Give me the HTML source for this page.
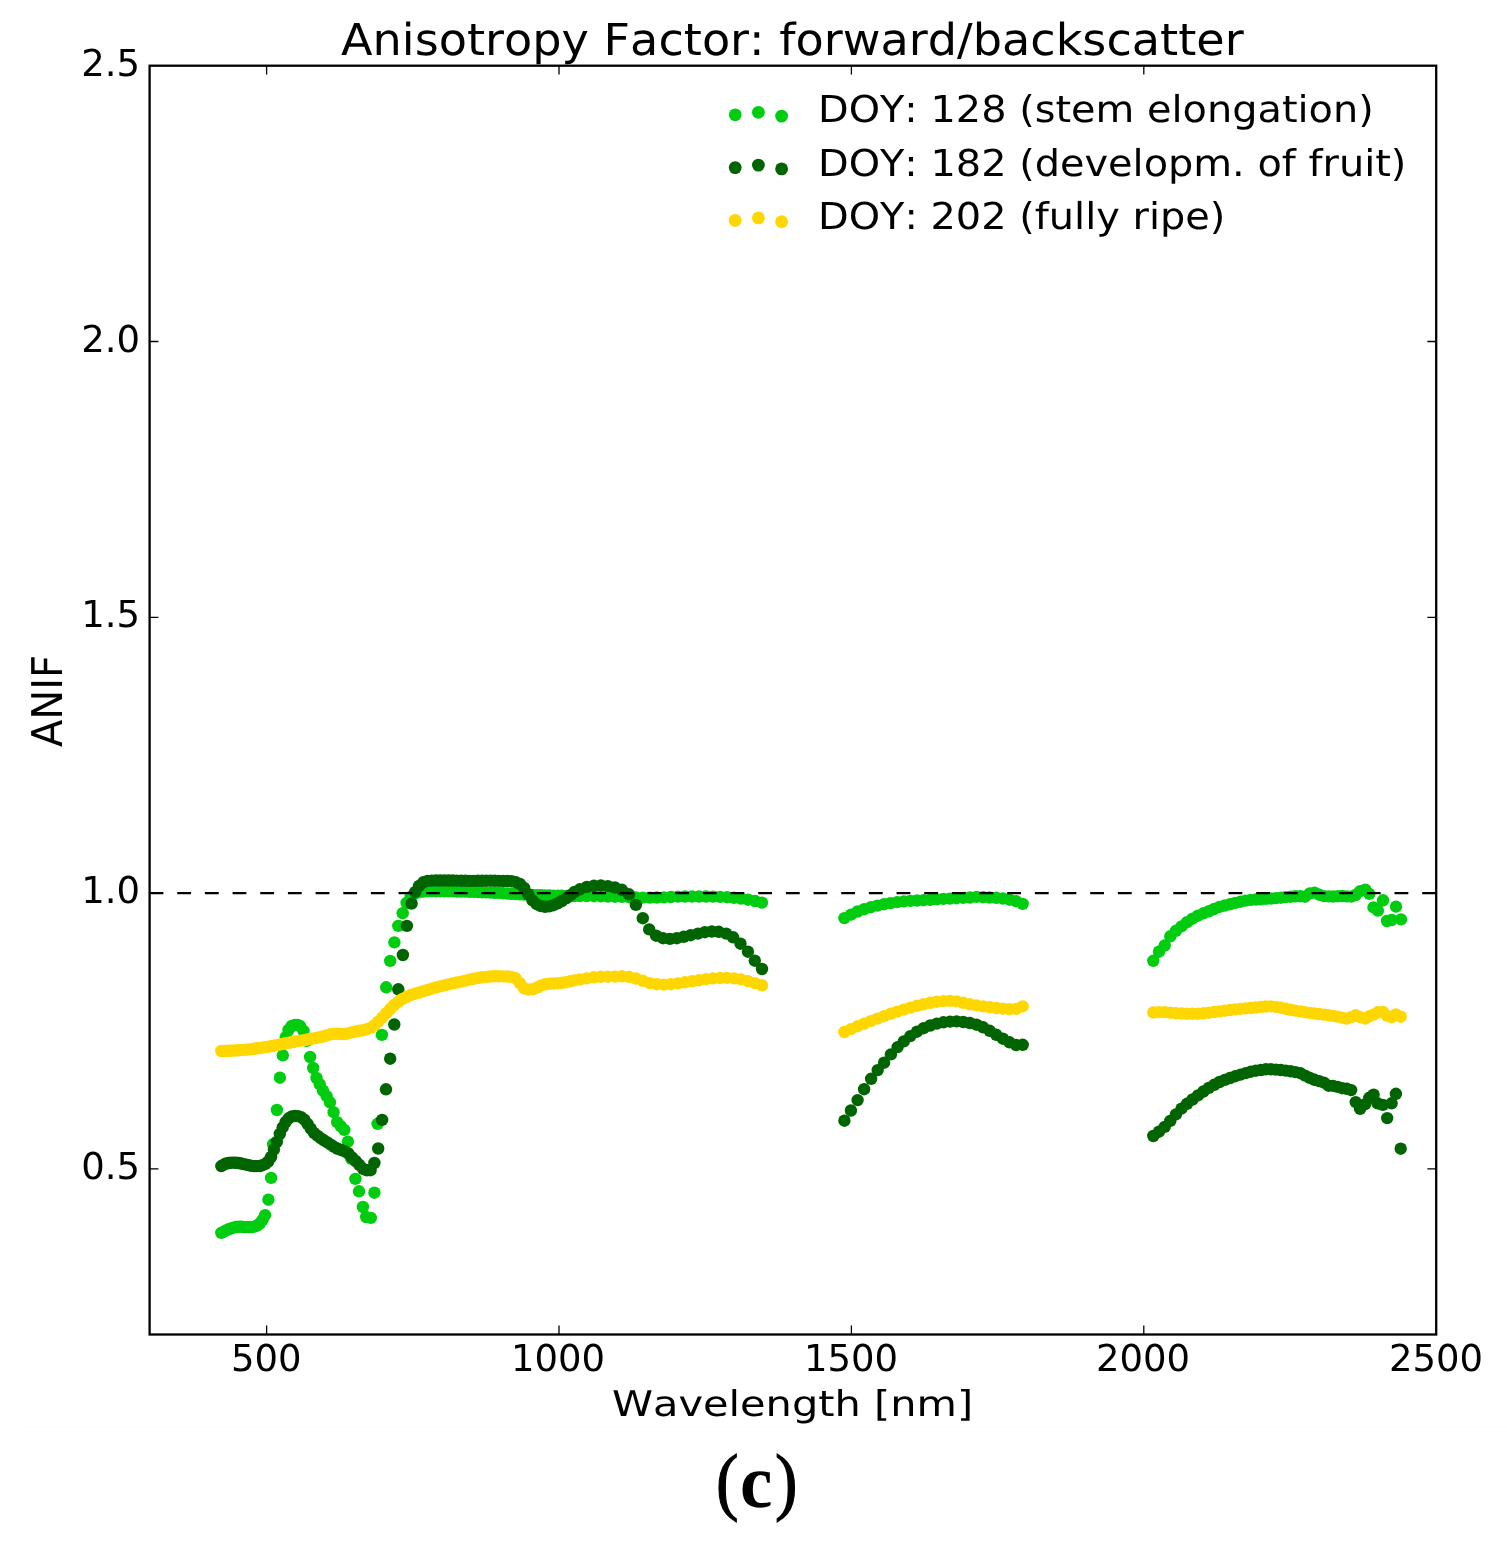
<!DOCTYPE html>
<html><head><meta charset="utf-8"><title>Anisotropy Factor</title>
<style>
html,body{margin:0;padding:0;background:#fff}
body{width:1507px;height:1544px;position:relative;overflow:hidden;font-family:"DejaVu Sans","Liberation Sans",sans-serif;color:#000}
.t{position:absolute;white-space:nowrap;line-height:1;transform-origin:0 0;font-kerning:none;font-variant-ligatures:none;text-rendering:geometricPrecision}
</style></head><body>
<svg width="1507" height="1544" viewBox="0 0 1507 1544" style="position:absolute;left:0;top:0">
<g fill="#00cd10"><circle cx="221.3" cy="1232.9" r="6.2"/><circle cx="223.7" cy="1231.6" r="6.2"/><circle cx="226.1" cy="1230.4" r="6.2"/><circle cx="228.6" cy="1229.3" r="6.2"/><circle cx="231.0" cy="1228.4" r="6.2"/><circle cx="233.5" cy="1227.7" r="6.2"/><circle cx="236.0" cy="1227.0" r="6.2"/><circle cx="238.6" cy="1226.7" r="6.2"/><circle cx="241.2" cy="1226.8" r="6.2"/><circle cx="243.7" cy="1227.0" r="6.2"/><circle cx="246.4" cy="1227.1" r="6.2"/><circle cx="249.0" cy="1227.1" r="6.2"/><circle cx="251.7" cy="1227.1" r="6.2"/><circle cx="254.4" cy="1226.6" r="6.2"/><circle cx="257.1" cy="1225.6" r="6.2"/><circle cx="259.8" cy="1223.5" r="6.2"/><circle cx="262.6" cy="1219.8" r="6.2"/><circle cx="265.1" cy="1215.1" r="6.2"/><circle cx="268.4" cy="1199.7" r="6.2"/><circle cx="271.1" cy="1177.9" r="6.2"/><circle cx="273.1" cy="1144.2" r="6.2"/><circle cx="276.9" cy="1110.0" r="6.2"/><circle cx="279.9" cy="1077.7" r="6.2"/><circle cx="282.8" cy="1055.3" r="6.2"/><circle cx="285.8" cy="1037.2" r="6.2"/><circle cx="288.5" cy="1029.9" r="6.2"/><circle cx="291.7" cy="1025.9" r="6.2"/><circle cx="294.9" cy="1025.0" r="6.2"/><circle cx="297.6" cy="1025.0" r="6.2"/><circle cx="300.3" cy="1026.3" r="6.2"/><circle cx="303.5" cy="1030.9" r="6.2"/><circle cx="306.7" cy="1040.8" r="6.2"/><circle cx="310.1" cy="1057.0" r="6.2"/><circle cx="313.2" cy="1068.0" r="6.2"/><circle cx="316.5" cy="1078.0" r="6.2"/><circle cx="319.8" cy="1084.3" r="6.2"/><circle cx="323.0" cy="1090.7" r="6.2"/><circle cx="326.6" cy="1096.1" r="6.2"/><circle cx="330.0" cy="1102.3" r="6.2"/><circle cx="333.6" cy="1112.2" r="6.2"/><circle cx="337.2" cy="1122.2" r="6.2"/><circle cx="340.9" cy="1126.3" r="6.2"/><circle cx="344.3" cy="1129.9" r="6.2"/><circle cx="347.9" cy="1141.7" r="6.2"/><circle cx="351.3" cy="1158.9" r="6.2"/><circle cx="355.4" cy="1178.9" r="6.2"/><circle cx="359.0" cy="1191.3" r="6.2"/><circle cx="362.9" cy="1207.0" r="6.2"/><circle cx="366.2" cy="1217.0" r="6.2"/><circle cx="370.8" cy="1217.9" r="6.2"/><circle cx="374.4" cy="1192.7" r="6.2"/><circle cx="377.6" cy="1123.8" r="6.2"/><circle cx="381.9" cy="1034.9" r="6.2"/><circle cx="386.2" cy="987.3" r="6.2"/><circle cx="390.2" cy="960.9" r="6.2"/><circle cx="394.4" cy="942.4" r="6.2"/><circle cx="398.3" cy="925.9" r="6.2"/><circle cx="402.7" cy="913.2" r="6.2"/><circle cx="406.6" cy="903.0" r="6.2"/><circle cx="410.7" cy="896.8" r="6.2"/><circle cx="414.9" cy="893.5" r="6.2"/><circle cx="419.1" cy="892.1" r="6.2"/><circle cx="423.3" cy="891.6" r="6.2"/><circle cx="427.5" cy="891.3" r="6.2"/><circle cx="431.7" cy="891.2" r="6.2"/><circle cx="435.9" cy="891.2" r="6.2"/><circle cx="440.1" cy="891.2" r="6.2"/><circle cx="444.3" cy="891.3" r="6.2"/><circle cx="448.5" cy="891.3" r="6.2"/><circle cx="452.7" cy="891.4" r="6.2"/><circle cx="456.9" cy="891.5" r="6.2"/><circle cx="461.1" cy="891.5" r="6.2"/><circle cx="465.3" cy="891.6" r="6.2"/><circle cx="469.5" cy="891.8" r="6.2"/><circle cx="473.7" cy="891.9" r="6.2"/><circle cx="477.9" cy="892.1" r="6.2"/><circle cx="482.1" cy="892.3" r="6.2"/><circle cx="486.3" cy="892.4" r="6.2"/><circle cx="490.5" cy="892.6" r="6.2"/><circle cx="494.7" cy="892.8" r="6.2"/><circle cx="498.9" cy="892.9" r="6.2"/><circle cx="503.1" cy="893.2" r="6.2"/><circle cx="507.3" cy="893.5" r="6.2"/><circle cx="511.5" cy="893.8" r="6.2"/><circle cx="515.7" cy="894.0" r="6.2"/><circle cx="519.9" cy="894.3" r="6.2"/><circle cx="524.1" cy="894.5" r="6.2"/><circle cx="528.3" cy="894.7" r="6.2"/><circle cx="532.5" cy="894.9" r="6.2"/><circle cx="536.7" cy="895.1" r="6.2"/><circle cx="540.9" cy="895.2" r="6.2"/><circle cx="545.1" cy="895.4" r="6.2"/><circle cx="549.3" cy="895.5" r="6.2"/><circle cx="553.5" cy="895.7" r="6.2"/><circle cx="557.7" cy="895.8" r="6.2"/><circle cx="561.9" cy="895.8" r="6.2"/><circle cx="566.1" cy="895.9" r="6.2"/><circle cx="570.3" cy="896.0" r="6.2"/><circle cx="574.5" cy="896.0" r="6.2"/><circle cx="579.8" cy="896.1" r="6.2"/><circle cx="586.8" cy="896.1" r="6.2"/><circle cx="593.9" cy="896.2" r="6.2"/><circle cx="600.9" cy="896.3" r="6.2"/><circle cx="607.9" cy="896.5" r="6.2"/><circle cx="614.9" cy="896.7" r="6.2"/><circle cx="621.9" cy="896.9" r="6.2"/><circle cx="628.9" cy="897.2" r="6.2"/><circle cx="635.9" cy="897.5" r="6.2"/><circle cx="642.9" cy="897.6" r="6.2"/><circle cx="649.9" cy="897.6" r="6.2"/><circle cx="656.9" cy="897.5" r="6.2"/><circle cx="663.9" cy="897.4" r="6.2"/><circle cx="670.9" cy="897.0" r="6.2"/><circle cx="677.9" cy="896.6" r="6.2"/><circle cx="685.0" cy="896.5" r="6.2"/><circle cx="692.0" cy="896.5" r="6.2"/><circle cx="699.0" cy="896.5" r="6.2"/><circle cx="706.0" cy="896.5" r="6.2"/><circle cx="713.0" cy="896.6" r="6.2"/><circle cx="720.0" cy="896.9" r="6.2"/><circle cx="727.0" cy="897.2" r="6.2"/><circle cx="734.0" cy="897.8" r="6.2"/><circle cx="741.0" cy="898.6" r="6.2"/><circle cx="748.0" cy="899.7" r="6.2"/><circle cx="755.0" cy="901.0" r="6.2"/><circle cx="762.0" cy="902.6" r="6.2"/><circle cx="844.4" cy="918.1" r="6.2"/><circle cx="851.0" cy="914.6" r="6.2"/><circle cx="857.6" cy="911.5" r="6.2"/><circle cx="864.2" cy="909.2" r="6.2"/><circle cx="870.8" cy="907.2" r="6.2"/><circle cx="877.4" cy="905.6" r="6.2"/><circle cx="884.0" cy="904.2" r="6.2"/><circle cx="890.6" cy="903.1" r="6.2"/><circle cx="897.2" cy="902.1" r="6.2"/><circle cx="903.8" cy="901.4" r="6.2"/><circle cx="910.4" cy="900.9" r="6.2"/><circle cx="917.0" cy="900.5" r="6.2"/><circle cx="923.6" cy="900.2" r="6.2"/><circle cx="930.2" cy="899.8" r="6.2"/><circle cx="936.8" cy="899.3" r="6.2"/><circle cx="943.4" cy="898.9" r="6.2"/><circle cx="950.0" cy="898.6" r="6.2"/><circle cx="956.6" cy="898.2" r="6.2"/><circle cx="963.2" cy="897.9" r="6.2"/><circle cx="969.9" cy="897.5" r="6.2"/><circle cx="976.5" cy="896.9" r="6.2"/><circle cx="983.1" cy="897.2" r="6.2"/><circle cx="989.7" cy="897.5" r="6.2"/><circle cx="996.3" cy="897.8" r="6.2"/><circle cx="1002.9" cy="898.5" r="6.2"/><circle cx="1009.5" cy="899.7" r="6.2"/><circle cx="1016.1" cy="901.2" r="6.2"/><circle cx="1022.7" cy="903.9" r="6.2"/><circle cx="1153.3" cy="960.8" r="6.2"/><circle cx="1159.0" cy="951.7" r="6.2"/><circle cx="1164.7" cy="945.5" r="6.2"/><circle cx="1170.3" cy="936.3" r="6.2"/><circle cx="1175.9" cy="930.8" r="6.2"/><circle cx="1181.5" cy="926.4" r="6.2"/><circle cx="1187.0" cy="922.2" r="6.2"/><circle cx="1192.5" cy="918.7" r="6.2"/><circle cx="1198.0" cy="915.7" r="6.2"/><circle cx="1203.4" cy="913.3" r="6.2"/><circle cx="1208.8" cy="911.3" r="6.2"/><circle cx="1214.2" cy="909.0" r="6.2"/><circle cx="1219.5" cy="906.9" r="6.2"/><circle cx="1224.8" cy="905.5" r="6.2"/><circle cx="1230.0" cy="904.3" r="6.2"/><circle cx="1235.3" cy="902.9" r="6.2"/><circle cx="1240.5" cy="901.7" r="6.2"/><circle cx="1245.6" cy="900.6" r="6.2"/><circle cx="1250.8" cy="899.9" r="6.2"/><circle cx="1255.8" cy="899.5" r="6.2"/><circle cx="1260.9" cy="899.2" r="6.2"/><circle cx="1265.9" cy="898.8" r="6.2"/><circle cx="1270.9" cy="898.5" r="6.2"/><circle cx="1275.9" cy="898.1" r="6.2"/><circle cx="1280.8" cy="897.7" r="6.2"/><circle cx="1285.7" cy="897.1" r="6.2"/><circle cx="1290.6" cy="896.7" r="6.2"/><circle cx="1295.5" cy="896.3" r="6.2"/><circle cx="1300.3" cy="896.3" r="6.2"/><circle cx="1305.1" cy="896.7" r="6.2"/><circle cx="1309.8" cy="893.4" r="6.2"/><circle cx="1314.5" cy="892.6" r="6.2"/><circle cx="1319.2" cy="894.7" r="6.2"/><circle cx="1323.9" cy="896.1" r="6.2"/><circle cx="1328.5" cy="896.4" r="6.2"/><circle cx="1333.1" cy="896.5" r="6.2"/><circle cx="1337.7" cy="896.2" r="6.2"/><circle cx="1342.2" cy="896.0" r="6.2"/><circle cx="1346.8" cy="896.4" r="6.2"/><circle cx="1351.2" cy="896.6" r="6.2"/><circle cx="1355.7" cy="895.0" r="6.2"/><circle cx="1360.1" cy="891.2" r="6.2"/><circle cx="1365.3" cy="889.6" r="6.2"/><circle cx="1369.3" cy="893.9" r="6.2"/><circle cx="1373.5" cy="907.4" r="6.2"/><circle cx="1377.9" cy="910.6" r="6.2"/><circle cx="1383.0" cy="900.3" r="6.2"/><circle cx="1387.0" cy="921.0" r="6.2"/><circle cx="1391.6" cy="920.0" r="6.2"/><circle cx="1396.0" cy="906.6" r="6.2"/><circle cx="1401.0" cy="919.4" r="6.2"/></g>
<g fill="#006400"><circle cx="221.3" cy="1166.1" r="6.2"/><circle cx="223.7" cy="1164.6" r="6.2"/><circle cx="226.1" cy="1163.5" r="6.2"/><circle cx="228.6" cy="1163.0" r="6.2"/><circle cx="231.0" cy="1162.7" r="6.2"/><circle cx="233.5" cy="1162.6" r="6.2"/><circle cx="236.0" cy="1162.8" r="6.2"/><circle cx="238.6" cy="1163.0" r="6.2"/><circle cx="241.2" cy="1163.5" r="6.2"/><circle cx="243.7" cy="1164.1" r="6.2"/><circle cx="246.4" cy="1164.7" r="6.2"/><circle cx="249.0" cy="1165.3" r="6.2"/><circle cx="251.7" cy="1165.9" r="6.2"/><circle cx="254.4" cy="1166.1" r="6.2"/><circle cx="257.1" cy="1166.1" r="6.2"/><circle cx="259.8" cy="1166.0" r="6.2"/><circle cx="262.6" cy="1165.2" r="6.2"/><circle cx="265.4" cy="1163.9" r="6.2"/><circle cx="268.2" cy="1161.5" r="6.2"/><circle cx="271.1" cy="1157.0" r="6.2"/><circle cx="273.9" cy="1149.5" r="6.2"/><circle cx="276.8" cy="1141.9" r="6.2"/><circle cx="279.8" cy="1134.0" r="6.2"/><circle cx="282.7" cy="1127.4" r="6.2"/><circle cx="285.7" cy="1121.9" r="6.2"/><circle cx="288.7" cy="1118.3" r="6.2"/><circle cx="291.8" cy="1116.4" r="6.2"/><circle cx="294.9" cy="1116.0" r="6.2"/><circle cx="298.0" cy="1116.1" r="6.2"/><circle cx="301.1" cy="1117.1" r="6.2"/><circle cx="304.3" cy="1119.6" r="6.2"/><circle cx="307.5" cy="1123.9" r="6.2"/><circle cx="310.7" cy="1128.7" r="6.2"/><circle cx="314.0" cy="1132.9" r="6.2"/><circle cx="317.3" cy="1135.7" r="6.2"/><circle cx="320.6" cy="1138.1" r="6.2"/><circle cx="323.9" cy="1140.3" r="6.2"/><circle cx="327.3" cy="1142.4" r="6.2"/><circle cx="330.7" cy="1144.6" r="6.2"/><circle cx="334.2" cy="1146.9" r="6.2"/><circle cx="337.7" cy="1148.8" r="6.2"/><circle cx="341.2" cy="1150.0" r="6.2"/><circle cx="344.8" cy="1151.3" r="6.2"/><circle cx="348.4" cy="1153.5" r="6.2"/><circle cx="352.0" cy="1157.4" r="6.2"/><circle cx="355.6" cy="1161.0" r="6.2"/><circle cx="359.3" cy="1164.8" r="6.2"/><circle cx="363.1" cy="1168.8" r="6.2"/><circle cx="366.8" cy="1170.3" r="6.2"/><circle cx="370.6" cy="1170.2" r="6.2"/><circle cx="374.4" cy="1163.0" r="6.2"/><circle cx="378.2" cy="1148.5" r="6.2"/><circle cx="382.1" cy="1119.9" r="6.2"/><circle cx="386.0" cy="1089.3" r="6.2"/><circle cx="390.2" cy="1058.7" r="6.2"/><circle cx="394.3" cy="1024.5" r="6.2"/><circle cx="398.3" cy="989.3" r="6.2"/><circle cx="402.9" cy="955.0" r="6.2"/><circle cx="406.9" cy="925.9" r="6.2"/><circle cx="411.6" cy="903.5" r="6.2"/><circle cx="415.3" cy="891.9" r="6.2"/><circle cx="419.1" cy="885.9" r="6.2"/><circle cx="423.3" cy="882.3" r="6.2"/><circle cx="427.5" cy="880.9" r="6.2"/><circle cx="431.7" cy="880.6" r="6.2"/><circle cx="435.9" cy="880.5" r="6.2"/><circle cx="440.1" cy="880.5" r="6.2"/><circle cx="444.3" cy="880.5" r="6.2"/><circle cx="448.5" cy="880.5" r="6.2"/><circle cx="452.7" cy="880.5" r="6.2"/><circle cx="456.9" cy="880.6" r="6.2"/><circle cx="461.1" cy="880.7" r="6.2"/><circle cx="465.3" cy="880.8" r="6.2"/><circle cx="469.5" cy="880.9" r="6.2"/><circle cx="473.7" cy="880.9" r="6.2"/><circle cx="477.9" cy="880.8" r="6.2"/><circle cx="482.1" cy="880.8" r="6.2"/><circle cx="486.3" cy="880.7" r="6.2"/><circle cx="490.5" cy="880.7" r="6.2"/><circle cx="494.7" cy="880.8" r="6.2"/><circle cx="498.9" cy="880.9" r="6.2"/><circle cx="503.1" cy="881.0" r="6.2"/><circle cx="507.3" cy="881.0" r="6.2"/><circle cx="511.5" cy="881.2" r="6.2"/><circle cx="515.7" cy="882.2" r="6.2"/><circle cx="519.9" cy="884.0" r="6.2"/><circle cx="524.1" cy="888.0" r="6.2"/><circle cx="528.3" cy="894.3" r="6.2"/><circle cx="532.5" cy="900.4" r="6.2"/><circle cx="536.7" cy="904.2" r="6.2"/><circle cx="540.9" cy="906.1" r="6.2"/><circle cx="545.1" cy="906.8" r="6.2"/><circle cx="549.3" cy="906.4" r="6.2"/><circle cx="553.5" cy="905.2" r="6.2"/><circle cx="557.7" cy="903.4" r="6.2"/><circle cx="561.9" cy="901.0" r="6.2"/><circle cx="566.1" cy="898.4" r="6.2"/><circle cx="570.3" cy="895.3" r="6.2"/><circle cx="574.5" cy="892.0" r="6.2"/><circle cx="579.8" cy="889.3" r="6.2"/><circle cx="586.8" cy="886.9" r="6.2"/><circle cx="593.9" cy="885.8" r="6.2"/><circle cx="600.9" cy="885.4" r="6.2"/><circle cx="607.9" cy="886.1" r="6.2"/><circle cx="614.9" cy="887.5" r="6.2"/><circle cx="621.9" cy="889.8" r="6.2"/><circle cx="629.0" cy="894.3" r="6.2"/><circle cx="635.9" cy="904.9" r="6.2"/><circle cx="642.8" cy="918.2" r="6.2"/><circle cx="649.2" cy="929.4" r="6.2"/><circle cx="656.1" cy="935.7" r="6.2"/><circle cx="663.0" cy="938.2" r="6.2"/><circle cx="669.9" cy="938.9" r="6.2"/><circle cx="676.8" cy="938.2" r="6.2"/><circle cx="683.7" cy="936.8" r="6.2"/><circle cx="690.6" cy="935.2" r="6.2"/><circle cx="698.0" cy="933.6" r="6.2"/><circle cx="704.9" cy="932.2" r="6.2"/><circle cx="711.8" cy="931.5" r="6.2"/><circle cx="718.7" cy="931.8" r="6.2"/><circle cx="726.2" cy="933.6" r="6.2"/><circle cx="733.1" cy="937.3" r="6.2"/><circle cx="740.5" cy="943.7" r="6.2"/><circle cx="747.9" cy="951.7" r="6.2"/><circle cx="754.8" cy="960.7" r="6.2"/><circle cx="762.0" cy="969.0" r="6.2"/><circle cx="844.4" cy="1120.7" r="6.2"/><circle cx="850.9" cy="1110.5" r="6.2"/><circle cx="857.6" cy="1100.1" r="6.2"/><circle cx="864.1" cy="1089.2" r="6.2"/><circle cx="871.1" cy="1078.8" r="6.2"/><circle cx="877.7" cy="1070.1" r="6.2"/><circle cx="884.1" cy="1062.7" r="6.2"/><circle cx="890.9" cy="1054.4" r="6.2"/><circle cx="897.6" cy="1047.1" r="6.2"/><circle cx="903.8" cy="1041.4" r="6.2"/><circle cx="910.4" cy="1036.1" r="6.2"/><circle cx="917.0" cy="1031.7" r="6.2"/><circle cx="923.6" cy="1028.2" r="6.2"/><circle cx="930.2" cy="1025.5" r="6.2"/><circle cx="936.8" cy="1023.6" r="6.2"/><circle cx="943.4" cy="1022.3" r="6.2"/><circle cx="950.0" cy="1021.6" r="6.2"/><circle cx="956.6" cy="1021.4" r="6.2"/><circle cx="963.2" cy="1022.0" r="6.2"/><circle cx="969.9" cy="1023.0" r="6.2"/><circle cx="976.5" cy="1024.7" r="6.2"/><circle cx="983.1" cy="1027.3" r="6.2"/><circle cx="989.7" cy="1030.8" r="6.2"/><circle cx="996.3" cy="1034.8" r="6.2"/><circle cx="1002.9" cy="1038.7" r="6.2"/><circle cx="1009.5" cy="1042.3" r="6.2"/><circle cx="1016.1" cy="1045.0" r="6.2"/><circle cx="1022.7" cy="1044.8" r="6.2"/><circle cx="1153.3" cy="1136.0" r="6.2"/><circle cx="1159.0" cy="1131.7" r="6.2"/><circle cx="1164.7" cy="1126.9" r="6.2"/><circle cx="1170.3" cy="1120.9" r="6.2"/><circle cx="1175.9" cy="1114.4" r="6.2"/><circle cx="1181.5" cy="1108.6" r="6.2"/><circle cx="1187.0" cy="1103.8" r="6.2"/><circle cx="1192.5" cy="1099.5" r="6.2"/><circle cx="1198.0" cy="1095.4" r="6.2"/><circle cx="1203.4" cy="1091.5" r="6.2"/><circle cx="1208.8" cy="1087.9" r="6.2"/><circle cx="1214.2" cy="1084.8" r="6.2"/><circle cx="1219.5" cy="1082.0" r="6.2"/><circle cx="1224.8" cy="1079.9" r="6.2"/><circle cx="1230.0" cy="1078.0" r="6.2"/><circle cx="1235.3" cy="1076.2" r="6.2"/><circle cx="1240.5" cy="1074.6" r="6.2"/><circle cx="1245.6" cy="1073.1" r="6.2"/><circle cx="1250.8" cy="1071.7" r="6.2"/><circle cx="1255.8" cy="1070.7" r="6.2"/><circle cx="1260.9" cy="1070.0" r="6.2"/><circle cx="1265.9" cy="1069.3" r="6.2"/><circle cx="1270.9" cy="1069.3" r="6.2"/><circle cx="1275.9" cy="1069.6" r="6.2"/><circle cx="1280.8" cy="1070.0" r="6.2"/><circle cx="1285.7" cy="1070.6" r="6.2"/><circle cx="1290.6" cy="1071.3" r="6.2"/><circle cx="1295.5" cy="1072.1" r="6.2"/><circle cx="1300.3" cy="1073.2" r="6.2"/><circle cx="1305.1" cy="1075.6" r="6.2"/><circle cx="1309.8" cy="1077.9" r="6.2"/><circle cx="1314.5" cy="1079.8" r="6.2"/><circle cx="1319.2" cy="1081.1" r="6.2"/><circle cx="1323.9" cy="1082.6" r="6.2"/><circle cx="1328.5" cy="1085.7" r="6.2"/><circle cx="1333.1" cy="1085.9" r="6.2"/><circle cx="1337.7" cy="1086.9" r="6.2"/><circle cx="1342.2" cy="1088.2" r="6.2"/><circle cx="1346.8" cy="1088.8" r="6.2"/><circle cx="1351.2" cy="1090.1" r="6.2"/><circle cx="1355.7" cy="1102.1" r="6.2"/><circle cx="1360.1" cy="1108.9" r="6.2"/><circle cx="1365.3" cy="1104.1" r="6.2"/><circle cx="1369.3" cy="1097.8" r="6.2"/><circle cx="1373.6" cy="1094.6" r="6.2"/><circle cx="1377.6" cy="1103.3" r="6.2"/><circle cx="1382.8" cy="1104.9" r="6.2"/><circle cx="1387.2" cy="1118.1" r="6.2"/><circle cx="1391.6" cy="1103.3" r="6.2"/><circle cx="1395.9" cy="1093.8" r="6.2"/><circle cx="1400.7" cy="1148.7" r="6.2"/></g>
<g fill="#ffd700"><circle cx="221.3" cy="1051.0" r="6.2"/><circle cx="223.7" cy="1050.9" r="6.2"/><circle cx="226.1" cy="1050.9" r="6.2"/><circle cx="228.6" cy="1050.8" r="6.2"/><circle cx="231.0" cy="1050.7" r="6.2"/><circle cx="233.5" cy="1050.6" r="6.2"/><circle cx="236.0" cy="1050.4" r="6.2"/><circle cx="238.6" cy="1050.3" r="6.2"/><circle cx="241.2" cy="1050.1" r="6.2"/><circle cx="243.7" cy="1049.9" r="6.2"/><circle cx="246.4" cy="1049.7" r="6.2"/><circle cx="249.0" cy="1049.4" r="6.2"/><circle cx="251.7" cy="1049.1" r="6.2"/><circle cx="254.4" cy="1048.7" r="6.2"/><circle cx="257.1" cy="1048.3" r="6.2"/><circle cx="259.8" cy="1048.0" r="6.2"/><circle cx="262.6" cy="1047.6" r="6.2"/><circle cx="265.4" cy="1047.1" r="6.2"/><circle cx="268.2" cy="1046.7" r="6.2"/><circle cx="271.1" cy="1046.2" r="6.2"/><circle cx="273.9" cy="1045.7" r="6.2"/><circle cx="276.8" cy="1045.1" r="6.2"/><circle cx="279.8" cy="1044.5" r="6.2"/><circle cx="282.7" cy="1043.9" r="6.2"/><circle cx="285.7" cy="1043.3" r="6.2"/><circle cx="288.7" cy="1042.8" r="6.2"/><circle cx="291.8" cy="1042.2" r="6.2"/><circle cx="294.9" cy="1041.7" r="6.2"/><circle cx="298.0" cy="1041.1" r="6.2"/><circle cx="301.1" cy="1040.6" r="6.2"/><circle cx="304.3" cy="1040.1" r="6.2"/><circle cx="307.5" cy="1039.5" r="6.2"/><circle cx="310.7" cy="1039.0" r="6.2"/><circle cx="314.0" cy="1038.4" r="6.2"/><circle cx="317.3" cy="1037.7" r="6.2"/><circle cx="320.6" cy="1037.0" r="6.2"/><circle cx="323.9" cy="1036.2" r="6.2"/><circle cx="327.3" cy="1035.2" r="6.2"/><circle cx="330.7" cy="1034.3" r="6.2"/><circle cx="334.2" cy="1033.7" r="6.2"/><circle cx="337.7" cy="1033.8" r="6.2"/><circle cx="341.2" cy="1034.0" r="6.2"/><circle cx="344.8" cy="1034.0" r="6.2"/><circle cx="348.4" cy="1033.2" r="6.2"/><circle cx="352.0" cy="1032.3" r="6.2"/><circle cx="355.6" cy="1031.5" r="6.2"/><circle cx="359.3" cy="1030.8" r="6.2"/><circle cx="363.1" cy="1030.2" r="6.2"/><circle cx="366.8" cy="1029.3" r="6.2"/><circle cx="370.6" cy="1027.9" r="6.2"/><circle cx="374.5" cy="1025.2" r="6.2"/><circle cx="378.3" cy="1021.7" r="6.2"/><circle cx="382.2" cy="1017.6" r="6.2"/><circle cx="386.2" cy="1013.2" r="6.2"/><circle cx="390.2" cy="1009.0" r="6.2"/><circle cx="394.2" cy="1005.0" r="6.2"/><circle cx="398.3" cy="1001.8" r="6.2"/><circle cx="402.4" cy="999.0" r="6.2"/><circle cx="406.5" cy="996.8" r="6.2"/><circle cx="410.7" cy="995.1" r="6.2"/><circle cx="414.9" cy="993.7" r="6.2"/><circle cx="419.1" cy="992.5" r="6.2"/><circle cx="423.3" cy="991.3" r="6.2"/><circle cx="427.5" cy="990.0" r="6.2"/><circle cx="431.7" cy="988.7" r="6.2"/><circle cx="435.9" cy="987.5" r="6.2"/><circle cx="440.1" cy="986.4" r="6.2"/><circle cx="444.3" cy="985.4" r="6.2"/><circle cx="448.5" cy="984.4" r="6.2"/><circle cx="452.7" cy="983.4" r="6.2"/><circle cx="456.9" cy="982.5" r="6.2"/><circle cx="461.1" cy="981.6" r="6.2"/><circle cx="465.3" cy="980.6" r="6.2"/><circle cx="469.5" cy="979.7" r="6.2"/><circle cx="473.7" cy="978.8" r="6.2"/><circle cx="477.9" cy="978.0" r="6.2"/><circle cx="482.1" cy="977.3" r="6.2"/><circle cx="486.3" cy="976.9" r="6.2"/><circle cx="490.5" cy="976.5" r="6.2"/><circle cx="494.7" cy="976.3" r="6.2"/><circle cx="498.9" cy="976.3" r="6.2"/><circle cx="503.1" cy="976.4" r="6.2"/><circle cx="507.3" cy="976.5" r="6.2"/><circle cx="511.5" cy="976.9" r="6.2"/><circle cx="515.7" cy="978.3" r="6.2"/><circle cx="519.9" cy="983.1" r="6.2"/><circle cx="524.1" cy="988.3" r="6.2"/><circle cx="528.3" cy="989.5" r="6.2"/><circle cx="532.5" cy="989.3" r="6.2"/><circle cx="536.7" cy="987.8" r="6.2"/><circle cx="540.9" cy="985.6" r="6.2"/><circle cx="545.1" cy="984.3" r="6.2"/><circle cx="549.3" cy="983.7" r="6.2"/><circle cx="553.5" cy="983.5" r="6.2"/><circle cx="557.7" cy="983.2" r="6.2"/><circle cx="561.9" cy="982.8" r="6.2"/><circle cx="566.1" cy="982.2" r="6.2"/><circle cx="570.3" cy="981.3" r="6.2"/><circle cx="574.5" cy="980.4" r="6.2"/><circle cx="579.8" cy="979.5" r="6.2"/><circle cx="586.8" cy="978.4" r="6.2"/><circle cx="593.9" cy="977.3" r="6.2"/><circle cx="600.9" cy="976.8" r="6.2"/><circle cx="607.9" cy="976.7" r="6.2"/><circle cx="614.9" cy="976.6" r="6.2"/><circle cx="621.9" cy="976.3" r="6.2"/><circle cx="628.9" cy="976.9" r="6.2"/><circle cx="635.9" cy="978.5" r="6.2"/><circle cx="642.9" cy="980.8" r="6.2"/><circle cx="649.9" cy="983.1" r="6.2"/><circle cx="656.9" cy="984.2" r="6.2"/><circle cx="663.9" cy="984.6" r="6.2"/><circle cx="670.9" cy="984.2" r="6.2"/><circle cx="677.9" cy="983.4" r="6.2"/><circle cx="685.0" cy="982.3" r="6.2"/><circle cx="692.0" cy="981.3" r="6.2"/><circle cx="699.0" cy="980.2" r="6.2"/><circle cx="706.0" cy="979.2" r="6.2"/><circle cx="713.0" cy="978.4" r="6.2"/><circle cx="720.0" cy="978.0" r="6.2"/><circle cx="727.0" cy="977.9" r="6.2"/><circle cx="734.0" cy="978.4" r="6.2"/><circle cx="741.0" cy="979.4" r="6.2"/><circle cx="748.0" cy="981.1" r="6.2"/><circle cx="755.0" cy="983.1" r="6.2"/><circle cx="762.0" cy="985.3" r="6.2"/><circle cx="844.4" cy="1032.0" r="6.2"/><circle cx="851.0" cy="1029.1" r="6.2"/><circle cx="857.6" cy="1026.3" r="6.2"/><circle cx="864.2" cy="1023.7" r="6.2"/><circle cx="870.8" cy="1021.1" r="6.2"/><circle cx="877.4" cy="1018.6" r="6.2"/><circle cx="884.0" cy="1016.2" r="6.2"/><circle cx="890.6" cy="1013.8" r="6.2"/><circle cx="897.2" cy="1011.6" r="6.2"/><circle cx="903.8" cy="1009.6" r="6.2"/><circle cx="910.4" cy="1007.6" r="6.2"/><circle cx="917.0" cy="1005.8" r="6.2"/><circle cx="923.6" cy="1004.3" r="6.2"/><circle cx="930.2" cy="1002.8" r="6.2"/><circle cx="936.8" cy="1001.7" r="6.2"/><circle cx="943.4" cy="1001.1" r="6.2"/><circle cx="950.0" cy="1000.9" r="6.2"/><circle cx="956.6" cy="1001.4" r="6.2"/><circle cx="963.2" cy="1002.8" r="6.2"/><circle cx="969.9" cy="1004.3" r="6.2"/><circle cx="976.5" cy="1005.4" r="6.2"/><circle cx="983.1" cy="1006.4" r="6.2"/><circle cx="989.7" cy="1007.3" r="6.2"/><circle cx="996.3" cy="1008.0" r="6.2"/><circle cx="1002.9" cy="1008.7" r="6.2"/><circle cx="1009.5" cy="1009.2" r="6.2"/><circle cx="1016.1" cy="1008.9" r="6.2"/><circle cx="1022.7" cy="1006.4" r="6.2"/><circle cx="1153.3" cy="1012.5" r="6.2"/><circle cx="1159.0" cy="1012.1" r="6.2"/><circle cx="1164.7" cy="1012.1" r="6.2"/><circle cx="1170.3" cy="1012.7" r="6.2"/><circle cx="1175.9" cy="1013.3" r="6.2"/><circle cx="1181.5" cy="1013.5" r="6.2"/><circle cx="1187.0" cy="1013.7" r="6.2"/><circle cx="1192.5" cy="1013.8" r="6.2"/><circle cx="1198.0" cy="1013.8" r="6.2"/><circle cx="1203.4" cy="1013.3" r="6.2"/><circle cx="1208.8" cy="1012.7" r="6.2"/><circle cx="1214.2" cy="1012.0" r="6.2"/><circle cx="1219.5" cy="1011.4" r="6.2"/><circle cx="1224.8" cy="1010.7" r="6.2"/><circle cx="1230.0" cy="1010.0" r="6.2"/><circle cx="1235.3" cy="1009.4" r="6.2"/><circle cx="1240.5" cy="1008.9" r="6.2"/><circle cx="1245.6" cy="1008.4" r="6.2"/><circle cx="1250.8" cy="1008.0" r="6.2"/><circle cx="1255.8" cy="1007.5" r="6.2"/><circle cx="1260.9" cy="1006.9" r="6.2"/><circle cx="1265.9" cy="1006.5" r="6.2"/><circle cx="1270.9" cy="1006.4" r="6.2"/><circle cx="1275.9" cy="1006.9" r="6.2"/><circle cx="1280.8" cy="1007.7" r="6.2"/><circle cx="1285.7" cy="1008.8" r="6.2"/><circle cx="1290.6" cy="1009.8" r="6.2"/><circle cx="1295.5" cy="1010.6" r="6.2"/><circle cx="1300.3" cy="1011.4" r="6.2"/><circle cx="1305.1" cy="1012.2" r="6.2"/><circle cx="1309.8" cy="1012.9" r="6.2"/><circle cx="1314.5" cy="1013.5" r="6.2"/><circle cx="1319.2" cy="1014.0" r="6.2"/><circle cx="1323.9" cy="1014.6" r="6.2"/><circle cx="1328.5" cy="1015.3" r="6.2"/><circle cx="1333.1" cy="1015.9" r="6.2"/><circle cx="1337.7" cy="1016.6" r="6.2"/><circle cx="1342.2" cy="1017.6" r="6.2"/><circle cx="1346.8" cy="1018.6" r="6.2"/><circle cx="1351.2" cy="1017.1" r="6.2"/><circle cx="1355.7" cy="1015.3" r="6.2"/><circle cx="1360.1" cy="1017.2" r="6.2"/><circle cx="1365.3" cy="1018.5" r="6.2"/><circle cx="1369.3" cy="1016.3" r="6.2"/><circle cx="1373.6" cy="1014.6" r="6.2"/><circle cx="1377.6" cy="1012.3" r="6.2"/><circle cx="1382.8" cy="1012.0" r="6.2"/><circle cx="1387.2" cy="1015.9" r="6.2"/><circle cx="1391.6" cy="1017.2" r="6.2"/><circle cx="1395.9" cy="1014.4" r="6.2"/><circle cx="1400.7" cy="1016.7" r="6.2"/></g>
<line x1="149.6" y1="893.2" x2="1436.2" y2="893.2" stroke="#000" stroke-width="2.3" stroke-dasharray="13.8 13.865"/>
<path d="M266.6 1334.4v-8.8M266.6 65.7v8.8M559.0 1334.4v-8.8M559.0 65.7v8.8M851.4 1334.4v-8.8M851.4 65.7v8.8M1143.8 1334.4v-8.8M1143.8 65.7v8.8M149.6 1168.9h8.8M1436.2 1168.9h-8.8M149.6 893.1h8.8M1436.2 893.1h-8.8M149.6 617.3h8.8M1436.2 617.3h-8.8M149.6 341.5h8.8M1436.2 341.5h-8.8" stroke="#000" stroke-width="1.3" fill="none"/>
<rect x="149.6" y="65.7" width="1286.6" height="1268.8" fill="none" stroke="#000" stroke-width="2.3"/>
<g fill="#00cd10"><circle cx="735.2" cy="114.8" r="6.4"/><circle cx="758.4" cy="112.3" r="6.4"/><circle cx="781.6" cy="116.1" r="6.4"/></g>
<g fill="#006400"><circle cx="735.2" cy="167.6" r="6.4"/><circle cx="758.4" cy="165.1" r="6.4"/><circle cx="781.6" cy="168.9" r="6.4"/></g>
<g fill="#ffd700"><circle cx="735.2" cy="220.4" r="6.4"/><circle cx="758.4" cy="217.9" r="6.4"/><circle cx="781.6" cy="221.7" r="6.4"/></g>
<line x1="25" y1="1426.5" x2="1507" y2="1426.5" stroke="#fbfbfb" stroke-width="1"/>
</svg>
<div class="t" id="title" style="left:341px;top:18.5px;font-size:44px;transform:scaleX(1.0491)">Anisotropy Factor: forward/backscatter</div>
<div class="t" id="l1" style="left:818px;top:91.3px;font-size:37px;transform:scaleX(1.0766)">DOY: 128 (stem elongation)</div>
<div class="t" id="l2" style="left:818px;top:144.7px;font-size:37px;transform:scaleX(1.0767)">DOY: 182 (developm. of fruit)</div>
<div class="t" id="l3" style="left:818px;top:198.2px;font-size:37px;transform:scaleX(1.0772)">DOY: 202 (fully ripe)</div>
<div class="t" id="y25" style="left:81.3px;top:44.8px;font-size:37px">2.5</div>
<div class="t" id="y20" style="left:81.3px;top:320.6px;font-size:37px">2.0</div>
<div class="t" id="y15" style="left:81.3px;top:596.4px;font-size:37px">1.5</div>
<div class="t" id="y10" style="left:81.3px;top:872.2px;font-size:37px">1.0</div>
<div class="t" id="y05" style="left:81.3px;top:1148px;font-size:37px">0.5</div>
<div class="t" id="x500" style="left:231px;top:1339.7px;font-size:37px">500</div>
<div class="t" id="x1000" style="left:511px;top:1339.7px;font-size:37px">1000</div>
<div class="t" id="x1500" style="left:804px;top:1339.7px;font-size:37px">1500</div>
<div class="t" id="x2000" style="left:1096px;top:1339.7px;font-size:37px">2000</div>
<div class="t" id="x2500" style="left:1389px;top:1339.7px;font-size:37px">2500</div>
<div class="t" id="xl" style="left:612px;top:1386px;font-size:41.5px;transform:scaleY(0.855)">Wavelength [nm]</div>
<div class="t" id="yl" style="left:26.8px;top:747px;font-size:40px;transform:rotate(-90deg) scaleY(1.06)">ANIF</div>
<div class="t" id="cap" style="left:700px;top:1440px;font-family:'Liberation Serif','DejaVu Serif',serif;font-size:75px"><span id="cp1" style="display:inline-block;position:relative;left:16.40px;top:3.30px;font-weight:normal;-webkit-text-stroke:1.2px #000;transform:scaleX(0.9);transform-origin:0 0">(</span><span id="cc" style="display:inline-block;position:relative;left:15.32px;top:3.50px;font-size:76px;font-weight:bold;transform:scaleX(0.96);transform-origin:0 0">c</span><span id="cp2" style="display:inline-block;position:relative;left:16.48px;top:3.30px;font-weight:normal;-webkit-text-stroke:1.2px #000;transform:scaleX(0.9);transform-origin:0 0">)</span></div>

</body></html>
